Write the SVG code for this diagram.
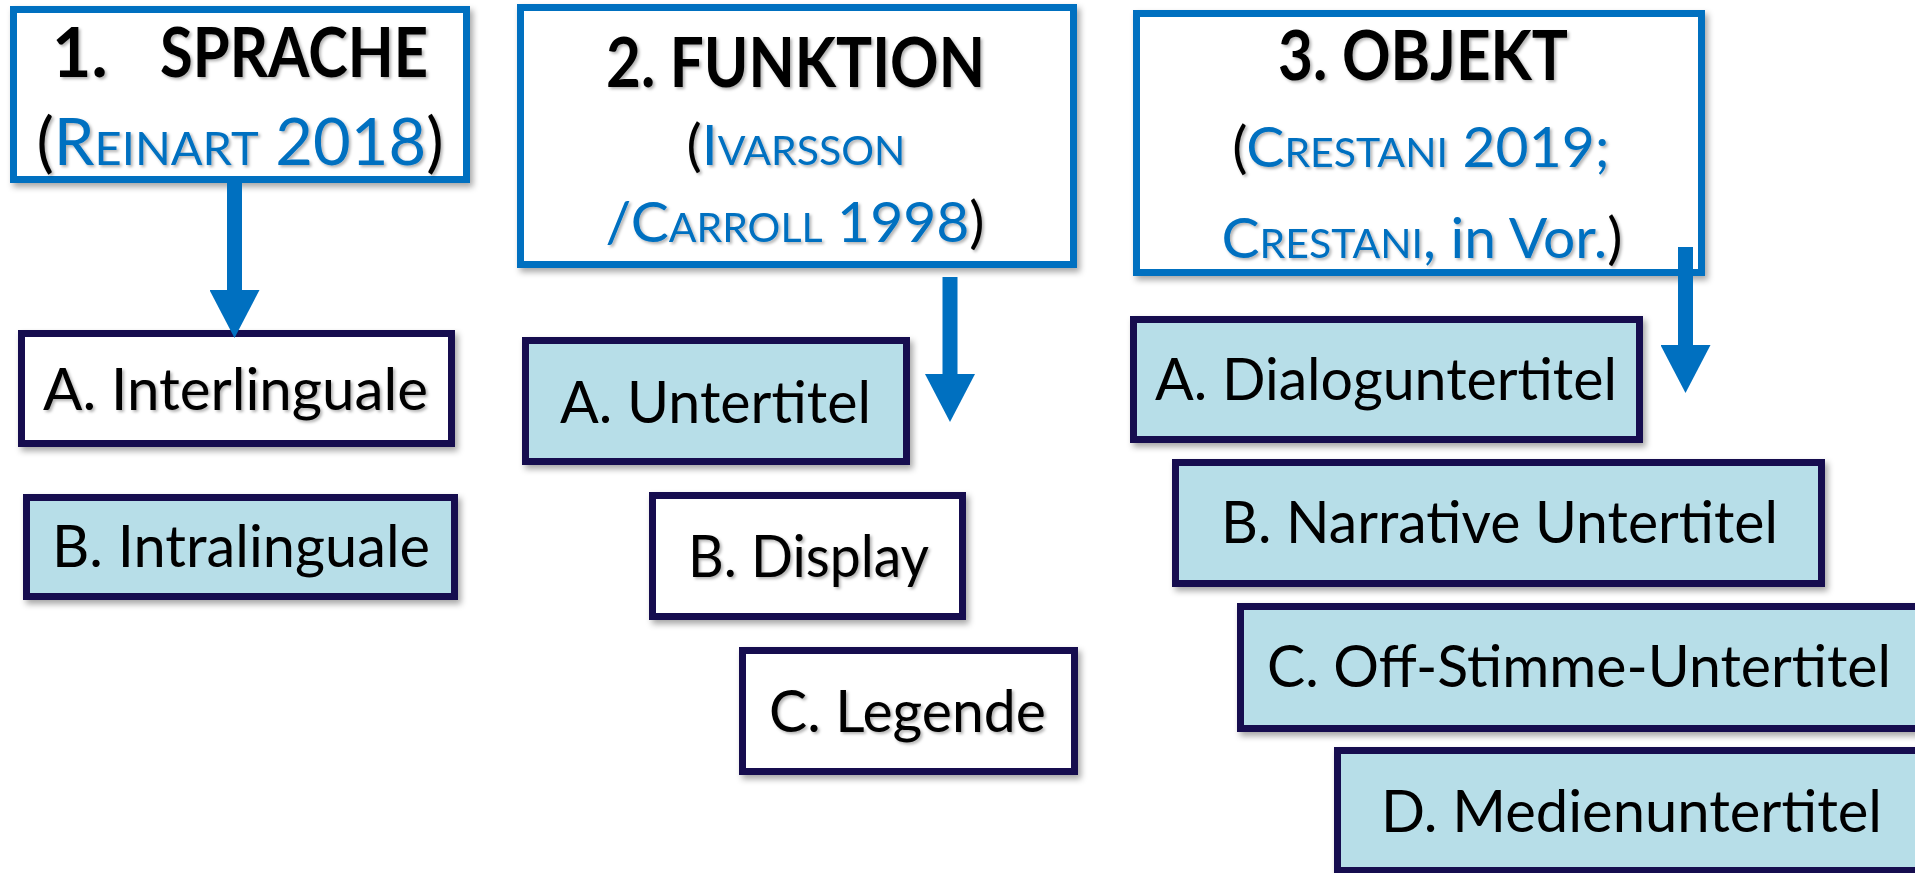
<svg xmlns="http://www.w3.org/2000/svg" width="1915" height="873" viewBox="0 0 1915 873">
<style>
.hdr{fill:#fff;stroke:#0070C0;stroke-width:7}
.sub{stroke:#130A4F;stroke-width:7}
.lb{fill:#B7DEE8}
.wh{fill:#fff}
text{font-family:Lato,"Open Sans","Liberation Sans",sans-serif;fill:#000}
.t{font-size:68px;font-weight:bold}
.c{font-size:65px}
.sc{font-size:47px}
.c2{font-size:57px}
.sc2{font-size:41px}
.bl{fill:#0070C0}
.l{font-size:58px}
.conn{stroke:#0070C0;stroke-width:15;fill:none}
</style>
<defs>
<filter id="sh" x="-5%" y="-5%" width="112%" height="120%">
<feDropShadow dx="3" dy="4" stdDeviation="3" flood-color="#000" flood-opacity="0.35"/>
</filter>
<filter id="tsh" x="-5%" y="-10%" width="110%" height="130%">
<feDropShadow dx="2" dy="2" stdDeviation="1.5" flood-color="#000" flood-opacity="0.3"/>
</filter>
<marker id="ah" markerUnits="userSpaceOnUse" markerWidth="50" markerHeight="50" refX="0" refY="24" orient="auto" viewBox="0 0 46 48">
<path d="M0,0 L46,24 L0,48 z" fill="#0070C0"/>
</marker>
</defs>

<g id="node-sprache">
<rect class="hdr" x="13.5" y="9.5" width="453" height="170" filter="url(#sh)"/>
<g filter="url(#tsh)">
<text class="t" y="77"><tspan x="52">1.</tspan> <tspan x="160" textLength="268" lengthAdjust="spacingAndGlyphs">SPRACHE</tspan></text>
<text class="c" x="240" y="165" text-anchor="middle">(<tspan class="bl">R</tspan><tspan class="bl sc">EINART</tspan><tspan class="bl"> 2018</tspan>)</text>
</g>
</g>

<g id="node-funktion">
<rect class="hdr" x="520.5" y="7.5" width="553" height="257" filter="url(#sh)"/>
<g filter="url(#tsh)">
<text class="t" x="606" y="87" textLength="379" lengthAdjust="spacingAndGlyphs">2. FUNKTION</text>
<text class="c2" x="796" y="165" text-anchor="middle">(<tspan class="bl">I</tspan><tspan class="bl sc2">VARSSON</tspan></text>
<text class="c2" x="795" y="242" text-anchor="middle"><tspan class="bl">/C</tspan><tspan class="bl sc2">ARROLL</tspan><tspan class="bl"> 1998</tspan>)</text>
</g>
</g>

<g id="node-objekt">
<rect class="hdr" x="1136.5" y="13.5" width="565" height="259" filter="url(#sh)"/>
<g filter="url(#tsh)">
<text class="t" x="1278" y="80" textLength="290" lengthAdjust="spacingAndGlyphs">3. OBJEKT</text>
<text class="c2" x="1421" y="167" text-anchor="middle">(<tspan class="bl">C</tspan><tspan class="bl sc2">RESTANI</tspan><tspan class="bl"> 2019;</tspan></text>
<text class="c2" x="1422" y="258" text-anchor="middle"><tspan class="bl">C</tspan><tspan class="bl sc2">RESTANI</tspan><tspan class="bl">, in Vor.</tspan>)</text>
</g>
</g>

<g id="node-interlinguale">
<rect class="sub wh" x="21.5" y="333.5" width="430" height="110" filter="url(#sh)"/>
<text class="l" x="43" y="410" textLength="385" lengthAdjust="spacingAndGlyphs" filter="url(#tsh)">A. Interlinguale</text>
</g>
<g id="node-intralinguale">
<rect class="sub lb" x="26.5" y="497.5" width="428" height="99" filter="url(#sh)"/>
<text class="l" x="52" y="567" textLength="378" lengthAdjust="spacingAndGlyphs">B. Intralinguale</text>
</g>

<g id="node-untertitel">
<rect class="sub lb" x="525.5" y="340.5" width="381" height="121" filter="url(#sh)"/>
<text class="l" x="560" y="423" textLength="311" lengthAdjust="spacingAndGlyphs">A. Untertitel</text>
</g>
<g id="node-display">
<rect class="sub wh" x="652.5" y="495.5" width="310" height="121" filter="url(#sh)"/>
<text class="l" x="688" y="577" textLength="241" lengthAdjust="spacingAndGlyphs" filter="url(#tsh)">B. Display</text>
</g>
<g id="node-legende">
<rect class="sub wh" x="742.5" y="650.5" width="332" height="121" filter="url(#sh)"/>
<text class="l" x="769" y="732" textLength="277" lengthAdjust="spacingAndGlyphs" filter="url(#tsh)">C. Legende</text>
</g>

<g id="node-dialog">
<rect class="sub lb" x="1133.5" y="319.5" width="506" height="120" filter="url(#sh)"/>
<text class="l" x="1155" y="400" textLength="462" lengthAdjust="spacingAndGlyphs">A. Dialoguntertitel</text>
</g>
<g id="node-narrative">
<rect class="sub lb" x="1175.5" y="462.5" width="646" height="121" filter="url(#sh)"/>
<text class="l" x="1221" y="543" textLength="557" lengthAdjust="spacingAndGlyphs">B. Narrative Untertitel</text>
</g>
<g id="node-offstimme">
<rect class="sub lb" x="1240.5" y="606.5" width="700" height="122" filter="url(#sh)"/>
<text class="l" x="1267" y="687" textLength="624" lengthAdjust="spacingAndGlyphs">C. Off-Stimme-Untertitel</text>
</g>
<g id="node-medien">
<rect class="sub lb" x="1337.5" y="750.5" width="620" height="120" filter="url(#sh)"/>
<text class="l" x="1381" y="832" textLength="501" lengthAdjust="spacingAndGlyphs">D. Medienuntertitel</text>
</g>

<g id="connectors">
<line class="conn" x1="234.5" y1="183" x2="234.5" y2="290" marker-end="url(#ah)"/>
<line class="conn" x1="950" y1="277" x2="950" y2="374" marker-end="url(#ah)"/>
<line class="conn" x1="1685.5" y1="247" x2="1685.5" y2="345" marker-end="url(#ah)"/>
</g>
</svg>
